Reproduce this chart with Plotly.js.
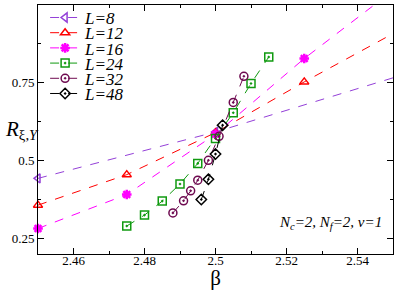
<!DOCTYPE html>
<html>
<head>
<meta charset="utf-8">
<script src="https://cdn.plot.ly/plotly-3.0.1.min.js"></script>
<style>
html,body{margin:0;padding:0;background:#fff;}
#chart{width:395px;height:290px;}
</style>
</head>
<body>
<div id="chart"></div>
<script>
// Data
const beta8  = [2.45, 2.50, 2.60];
const r8     = [0.443, 0.592, 0.940];
const beta12 = [2.45, 2.475, 2.50, 2.525, 2.575];
const r12    = [0.357, 0.455, 0.590, 0.753, 1.063];
const beta16 = [2.45, 2.475, 2.50, 2.525, 2.575];
const r16    = [0.282, 0.391, 0.585, 0.828, 1.265];
const beta24 = [2.475, 2.48, 2.485, 2.49, 2.495, 2.50, 2.505, 2.51, 2.515];
const r24    = [0.290, 0.325, 0.370, 0.425, 0.491, 0.571, 0.654, 0.748, 0.833];
const beta32 = [2.488, 2.491, 2.493, 2.495, 2.498, 2.501, 2.505, 2.508];
const r32    = [0.332, 0.371, 0.403, 0.437, 0.501, 0.578, 0.687, 0.771];
const beta48 = [2.496, 2.498, 2.50, 2.502];
const r48    = [0.375, 0.440, 0.521, 0.614];
const labels = ["L=8", "L=12", "L=16", "L=24", "L=32", "L=48"];
const xTickVals = [2.46, 2.48, 2.50, 2.52, 2.54];
const xTickText = ["2.46", "2.48", "2.5", "2.52", "2.54"];
const yTickVals = [0.25, 0.5, 0.75, 1];
const yTickText = ["0.25", "0.5", "0.75", "1"];

const series = [
  {x: beta8,  y: r8,  color: "#9440d8", symbol: "triangle-left-open"},
  {x: beta12, y: r12, color: "#ff0000", symbol: "triangle-up-open"},
  {x: beta16, y: r16, color: "#ff00ff", symbol: "asterisk-open"},
  {x: beta24, y: r24, color: "#109a10", symbol: "square-open-dot"},
  {x: beta32, y: r32, color: "#6e0a50", symbol: "circle-open-dot"},
  {x: beta48, y: r48, color: "#000000", symbol: "diamond-open-dot"}
];

const traces = series.map((s, i) => ({
  type: "scatter",
  mode: "lines+markers",
  x: s.x, y: s.y,
  name: "<i>" + labels[i] + "</i>",
  cliponaxis: false,
  line: {color: s.color, width: 1, dash: "dash"},
  marker: {color: s.color, symbol: s.symbol, size: 8,
           line: {color: s.color, width: s.symbol === "asterisk-open" ? 2.5 : 1.5}}
}));

const fontFam = "Liberation Serif, Times New Roman, serif";

const layout = {
  width: 395, height: 290,
  margin: {l: 38, r: 2, t: 5, b: 36},
  paper_bgcolor: "#fff", plot_bgcolor: "#fff",
  font: {family: fontFam, color: "#000", size: 12},
  showlegend: true,
  legend: {x: 0.02, y: 0.99, xanchor: "left", yanchor: "top",
           bgcolor: "rgba(0,0,0,0)", borderwidth: 0,
           font: {family: fontFam, size: 17, color: "#000"},
           tracegroupgap: 0, itemwidth: 30},
  xaxis: {
    range: [2.45, 2.55], showgrid: false, zeroline: false,
    showline: true, linecolor: "#000", linewidth: 1, mirror: "ticks",
    ticks: "inside", ticklen: 6, tickwidth: 1, tickcolor: "#000",
    tickvals: xTickVals, ticktext: xTickText, ticklabelstandoff: -6,
    tickfont: {family: fontFam, size: 13},
    minor: {ticks: "inside", ticklen: 3, dtick: 0.01, tick0: 2.45, tickcolor: "#000", showgrid: false},
    title: {text: "β", font: {family: fontFam, size: 21}, standoff: 0}
  },
  yaxis: {
    range: [0.2, 1], showgrid: false, zeroline: false,
    showline: true, linecolor: "#000", linewidth: 1, mirror: "ticks",
    ticks: "inside", ticklen: 6, tickwidth: 1, tickcolor: "#000",
    tickvals: yTickVals, ticktext: yTickText,
    tickfont: {family: fontFam, size: 13},
    minor: {ticks: "inside", ticklen: 3, dtick: 0.125, tick0: 0.25, tickcolor: "#000", showgrid: false}
  },
  annotations: [
    {xref: "paper", yref: "paper", x: -0.1, y: 0.5, xanchor: "left", yanchor: "middle",
     showarrow: false, align: "left",
     text: "<i>R</i><sub>ξ,<i>Y</i></sub>",
     font: {family: fontFam, size: 21, color: "#000"}},
    {xref: "paper", yref: "paper", x: 0.975, y: 0.125, xanchor: "right", yanchor: "middle",
     showarrow: false,
     text: "<i>N</i><sub><i>c</i></sub><i>=2, N</i><sub><i>f</i></sub><i>=2, v=1</i>",
     font: {family: fontFam, size: 15, color: "#000"}}
  ]
};

Plotly.newPlot("chart", traces, layout, {staticPlot: true, displayModeBar: false}).then(gd => {
  // tighten legend row spacing to match reference (~15.2px per row)
  gd.querySelectorAll(".legend .traces").forEach((el, i) => {
    el.setAttribute("transform", "translate(0," + (10 + i * 15.2) + ")");
  });
});
</script>
</body>
</html>
